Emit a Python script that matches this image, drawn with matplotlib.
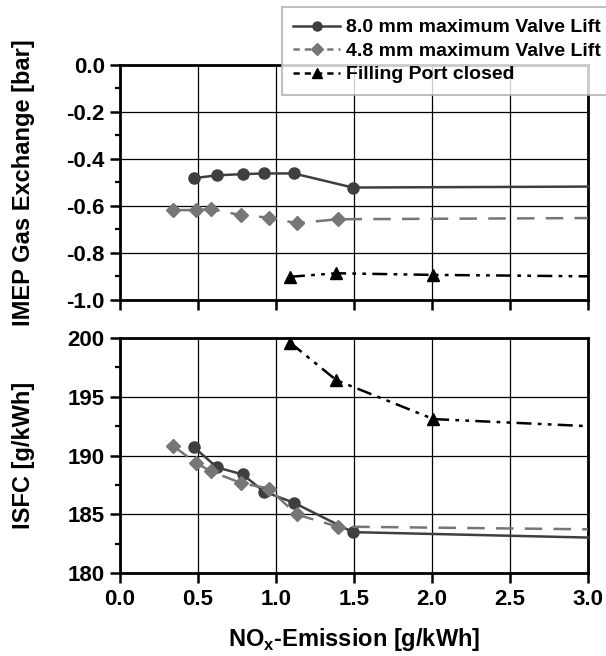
import numpy as np
import matplotlib
matplotlib.use("Agg")
import matplotlib.pyplot as plt
from matplotlib.ticker import MultipleLocator
from matplotlib.lines import Line2D

plt.rcParams['font.family'] = ['Liberation Sans', 'DejaVu Sans']
plt.rcParams['font.weight'] = 'bold'

# NOx emission [g/kWh] of the measured points
x_80 = [0.475, 0.622, 0.786, 0.923, 1.114, 1.493]
x_48 = [0.343, 0.485, 0.585, 0.779, 0.955, 1.132, 1.395]
x_fp = [1.09, 1.388, 2.01]

# IMEP gas exchange [bar]
imep_80 = [-0.482, -0.470, -0.465, -0.462, -0.462, -0.522]
imep_48 = [-0.618, -0.618, -0.614, -0.640, -0.650, -0.674, -0.657]
imep_fp = [-0.902, -0.887, -0.894]

# ISFC [g/kWh]
isfc_80 = [190.7, 189.0, 188.4, 186.95, 186.0, 183.5]
isfc_48 = [190.8, 189.4, 188.65, 187.66, 187.2, 185.0, 183.97]
isfc_fp = [199.6, 196.4, 193.1]

# trend continued to the right edge (x = 3.0)
x_end = 3.0
imep_end = {'80': -0.518, '48': -0.652, 'fp': -0.900}
isfc_end = {'80': 183.04, '48': 183.74, 'fp': 192.5}

imep_ticks = [-1.0, -0.8, -0.6, -0.4, -0.2, 0.0]
imep_ticklabels = ['-1.0', '-0.8', '-0.6', '-0.4', '-0.2', '0.0']

labels = ['8.0 mm maximum Valve Lift', '4.8 mm maximum Valve Lift', 'Filling Port closed']

c80 = '#3f3f3f'
c48 = '#767676'
cfp = '#000000'
ls80 = '-'
ls48 = (0, (7, 4.5))
lsfp = (0, (6, 2.5, 1.5, 2.5, 1.5, 2.5))

fig = plt.figure(figsize=(6.06, 6.56), dpi=100)
ax1 = fig.add_axes([0.198, 0.543, 0.772, 0.358])
ax2 = fig.add_axes([0.198, 0.126, 0.772, 0.359])


def draw(ax, ys, ends):
    xs = [x_80, x_48, x_fp]
    keys = ['80', '48', 'fp']
    cols = [c80, c48, cfp]
    lss = [ls80, ls48, lsfp]
    mks = ['o', 'D', '^']
    mss = [8, 7.5, 8.5]
    for x, y, k, c, ls, m, ms in zip(xs, ys, keys, cols, lss, mks, mss):
        ax.plot(x + [x_end], y + [ends[k]], color=c, lw=1.8, linestyle=ls,
                marker=m, markersize=ms, markevery=list(range(len(x))),
                markeredgecolor=c, markerfacecolor=c, clip_on=False, zorder=3)


draw(ax1, [imep_80, imep_48, imep_fp], imep_end)
draw(ax2, [isfc_80, isfc_48, isfc_fp], isfc_end)

for ax in (ax1, ax2):
    ax.set_xlim(0, 3.0)
    ax.xaxis.set_major_locator(MultipleLocator(0.5))
    ax.grid(True, which='major', color='black', lw=0.9)
    ax.set_axisbelow(True)
    for s in ax.spines.values():
        s.set_linewidth(2)
    ax.tick_params(which='major', direction='out', length=7, width=1.8,
                   labelsize=16, pad=4, right=False, top=False)
    ax.tick_params(which='minor', direction='out', length=3.5, width=1.6,
                   right=False, top=False)

ax1.set_ylim(-1.0, 0.0)
ax1.yaxis.set_minor_locator(MultipleLocator(0.1))
ax1.set_yticks(imep_ticks)
ax1.set_yticklabels(imep_ticklabels)
ax1.tick_params(axis='x', labelbottom=False)
ax1.set_ylabel('IMEP Gas Exchange [bar]', fontsize=17, fontweight='bold')

ax2.set_ylim(180, 200)
ax2.yaxis.set_major_locator(MultipleLocator(5))
ax2.yaxis.set_minor_locator(MultipleLocator(2.5))
ax2.set_ylabel('ISFC [g/kWh]', fontsize=17, fontweight='bold')
ax2.set_xlabel('NO$_\\mathregular{x}$-Emission [g/kWh]', fontsize=17, fontweight='bold', labelpad=12)

for ax in (ax1, ax2):
    for lab in ax.get_yticklabels() + ax.get_xticklabels():
        lab.set_fontweight('bold')

ax1.yaxis.set_label_coords(-0.182, 0.5)
ax2.yaxis.set_label_coords(-0.182, 0.5)

handles = [
    Line2D([], [], color=c80, lw=1.8, ls=ls80, marker='o', ms=6.5),
    Line2D([], [], color=c48, lw=1.8, ls=(0, (2.5, 2)), marker='D', ms=6),
    Line2D([], [], color=cfp, lw=1.8, ls=(0, (2.5, 2)), marker='^', ms=7),
]
leg = fig.legend(handles, labels, loc='upper left', bbox_to_anchor=(0.465, 0.989),
                 fontsize=14, frameon=True, fancybox=False, handlelength=2.4,
                 handletextpad=0.3, borderpad=0.6, labelspacing=0.3,
                 borderaxespad=0)
leg.get_frame().set_edgecolor('#b0b0b0')
leg.get_frame().set_linewidth(1.5)
leg.set_zorder(10)
for t in leg.get_texts():
    t.set_fontweight('bold')

fig.savefig('out.png', dpi=100)
